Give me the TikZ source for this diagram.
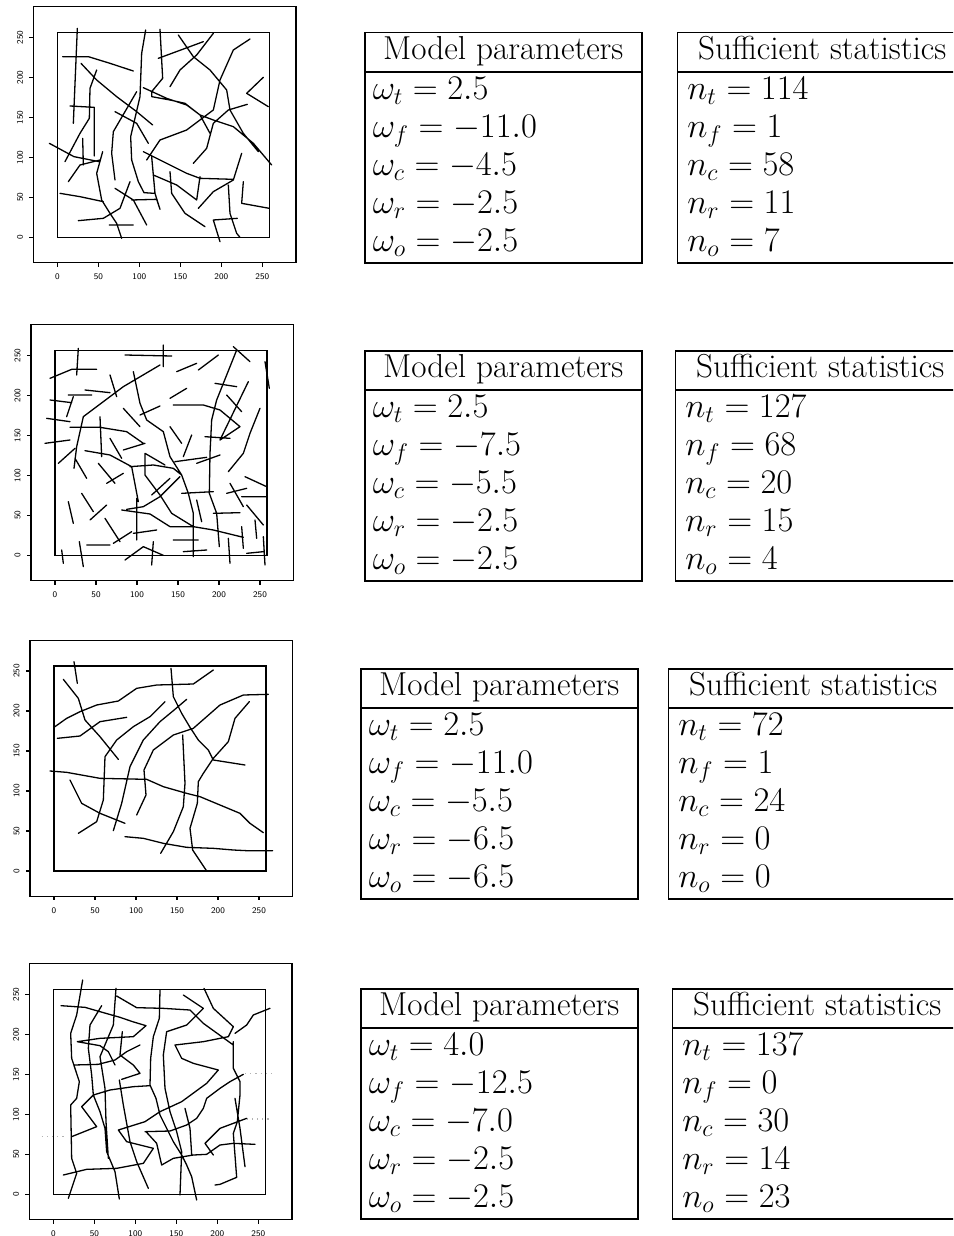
\documentclass[tikz,border=0pt]{standalone}
\usepackage{amsmath}
\usetikzlibrary{positioning}
\setlength{\arrayrulewidth}{1.1pt}

% plot box, inner window, ticks and tick labels (scan units, origin #2,#3)
\newcommand{\plotframe}[3]{%
  \draw[frame] (#2-72,#3+76) rectangle (#2+716,#3-692);
  \draw[frame] (#2,#3) rectangle (#2+636,#3-615);
  \foreach \v/\lab in {0/0,1/50,2/100,3/150,4/200,5/250}{
    \draw[frame] (#2+\v*123,#3+76) -- ++(0,12);
    \node[ticklab] (#1x\v) at (#2+\v*123,#3+118) {\lab};
    \draw[frame] (#2-72,#3-\v*120) -- ++(-12,0);
    \node[ticklab, rotate=90] (#1y\v) at (#2-112,#3-\v*120) {\lab};
  }}

\newcommand{\modeltab}[5]{%
  \begin{tabular}{@{\hspace{4pt}}p{134.5pt}@{}}
    \multicolumn{1}{c}{Model parameters}\\\hline
    $\omega_t = #1$\\ $\omega_f = #2$\\ $\omega_c = #3$\\ $\omega_r = #4$\\ $\omega_o = #5$
  \end{tabular}}
\newcommand{\stattab}[5]{%
  \begin{tabular}{@{\hspace{5pt}}p{140pt}@{}}
    \multicolumn{1}{c}{Sufficient statistics}\\\hline
    $n_t = #1$\\ $n_f = #2$\\ $n_c = #3$\\ $n_r = #4$\\ $n_o = #5$
  \end{tabular}}

\begin{document}
\begin{tikzpicture}[
		x=0.5pt, y=-0.5pt,
		frame/.style={line width=0.6pt},
		seg/.style={line width=0.65pt, line join=round, line cap=round},
		faint/.style={line width=0.6pt, gray!60, dotted},
		ticklab/.style={font=\sffamily\fontsize{4.3}{5}\selectfont, inner sep=0pt},
		tbl/.style={draw, line width=0.75pt, inner sep=0pt, anchor=north west, font=\fontsize{16.6}{19}\selectfont}
	]
	\useasboundingbox (0,0) rectangle (953,1236);
	\clip (0,0) rectangle (953,1236);

	% first sample
	\begin{scope}[shift={(0,0)}, scale=1/3]
		\plotframe{a}{172}{712}
		\draw[seg] (232,85) -- (220,370)
			(188,170) -- (265,170) -- (330,190) -- (400,213)
			(243,190) -- (290,240) -- (350,290) -- (410,335) -- (458,375)
			(290,210) -- (270,265) -- (268,355) -- (240,400) -- (195,485)
			(210,318) -- (283,322) -- (283,468)
			(248,415) -- (250,495)
			(148,430) -- (222,470) -- (298,485)
			(205,545) -- (240,495) -- (300,480)
			(308,455) -- (290,520) -- (305,600) -- (330,640) -- (350,670) -- (365,715)
			(180,580) -- (240,590) -- (310,605)
			(235,662) -- (310,655) -- (360,625) -- (390,545)
			(328,675) -- (400,675)
			(345,565) -- (400,600) -- (440,675)
			(437,90) -- (425,160) -- (420,290) -- (392,410) -- (395,480) -- (415,545) -- (432,578) -- (462,580)
			(395,600) -- (470,598) -- (480,628)
			(410,275) -- (340,395) -- (335,460) -- (345,540)
			(345,335) -- (410,370) -- (445,430)
			(480,88) -- (488,235) -- (455,275) -- (455,290) -- (510,300) -- (555,310) -- (600,345) -- (630,400)
			(475,175) -- (610,125)
			(535,105) -- (580,170) -- (630,210) -- (680,270) -- (690,330) -- (730,400) -- (775,455)
			(510,260) -- (540,210) -- (590,165) -- (640,100)
			(430,263) -- (500,295) -- (560,315) -- (600,345) -- (640,360) -- (700,380) -- (760,430) -- (815,495)
			(440,480) -- (480,420) -- (560,390) -- (640,330) -- (660,240) -- (700,150) -- (750,117)
			(580,490) -- (620,445) -- (640,370) -- (685,330) -- (742,313)
			(790,232) -- (740,280) -- (805,320)
			(430,455) -- (500,490) -- (560,520) -- (600,535) -- (700,538)
			(460,525) -- (530,555) -- (590,600) -- (600,530)
			(510,515) -- (515,580) -- (555,640) -- (615,680)
			(455,470) -- (465,580) -- (480,628)
			(595,625) -- (640,575) -- (700,540) -- (725,460)
			(685,555) -- (690,640) -- (710,700) -- (720,712)
			(660,725) -- (640,660) -- (712,655)
			(730,545) -- (725,610) -- (808,625);
	\end{scope}

	% second sample
	\begin{scope}[shift={(0,320)}, scale=1/3]
		\plotframe{b}{165}{706}
		\draw[seg] (480,135) -- (370,200) -- (250,290) -- (230,380) -- (222,445)
			(210,322) -- (300,322) -- (380,335) -- (430,370)
			(255,392) -- (330,405) -- (395,440) -- (415,545)
			(365,570) -- (450,582) -- (510,620) -- (580,620) -- (640,630) -- (730,652)
			(400,155) -- (420,250) -- (440,300) -- (490,335) -- (510,410) -- (545,465) -- (565,520) -- (580,580) -- (580,710)
			(495,435) -- (435,400) -- (435,465) -- (480,525) -- (515,580) -- (580,620)
			(390,440) -- (460,435) -- (520,445) -- (545,465)
			(380,568) -- (430,560) -- (480,530) -- (540,470)
			(710,90) -- (650,240) -- (635,300) -- (630,400) -- (628,520) -- (650,580) -- (658,680)
			(685,455) -- (730,400) -- (750,340) -- (770,290) -- (780,265)
			(520,255) -- (610,255) -- (660,270) -- (720,320) -- (660,360) -- (745,185)
			(700,80) -- (750,125)
			(795,125) -- (808,205)
			(150,175) -- (215,148) -- (290,148)
			(235,85) -- (230,165)
			(150,240) -- (215,248)
			(205,225) -- (275,225)
			(220,230) -- (200,290)
			(140,295) -- (210,305)
			(135,370) -- (210,360)
			(175,430) -- (225,385)
			(225,415) -- (260,475)
			(255,210) -- (330,218)
			(330,165) -- (350,230)
			(300,290) -- (305,410)
			(330,355) -- (365,415)
			(370,265) -- (420,320)
			(370,390) -- (435,370)
			(420,285) -- (480,258)
			(375,105) -- (515,108)
			(490,75) -- (490,140)
			(295,430) -- (345,490)
			(320,490) -- (370,460)
			(245,520) -- (280,575)
			(270,600) -- (320,555)
			(205,545) -- (220,610)
			(315,595) -- (360,665)
			(260,675) -- (330,675)
			(340,670) -- (395,635)
			(400,640) -- (470,630)
			(410,535) -- (410,660)
			(375,720) -- (430,680) -- (490,706)
			(460,665) -- (455,735)
			(185,690) -- (190,730)
			(238,665) -- (250,740)
			(455,525) -- (510,475)
			(530,155) -- (590,130)
			(595,150) -- (655,105)
			(510,235) -- (560,205)
			(510,320) -- (545,370)
			(575,345) -- (550,410)
			(525,425) -- (620,412)
			(590,430) -- (660,405)
			(545,520) -- (640,515)
			(590,540) -- (605,605)
			(520,660) -- (595,660)
			(550,695) -- (620,690)
			(640,580) -- (720,578)
			(680,520) -- (740,505)
			(690,490) -- (730,560)
			(685,655) -- (690,730)
			(725,620) -- (730,685)
			(725,530) -- (800,530)
			(735,470) -- (800,500)
			(740,555) -- (790,615)
			(765,600) -- (770,655)
			(645,190) -- (710,200)
			(680,225) -- (725,275)
			(615,350) -- (690,355)
			(790,650) -- (795,735)
			(740,700) -- (790,695);
	\end{scope}

	% third sample
	\begin{scope}[shift={(0,640)}, scale=1/3]
		\plotframe{c}{162}{693}
		\draw[seg] (222,65) -- (232,130)
			(190,118) -- (235,175) -- (255,240) -- (300,290) -- (355,358)
			(162,262) -- (200,235) -- (240,215) -- (290,195) -- (355,183) -- (410,145) -- (470,135) -- (580,132) -- (640,90)
			(172,295) -- (240,288) -- (300,245) -- (380,232)
			(235,580) -- (290,545) -- (310,480) -- (315,350) -- (350,300) -- (400,260) -- (450,230) -- (495,185)
			(340,572) -- (365,490) -- (390,380) -- (430,300) -- (480,245) -- (520,212) -- (560,178)
			(410,525) -- (438,465) -- (432,390) -- (460,330) -- (520,285) -- (580,265) -- (620,230) -- (660,195) -- (730,165) -- (805,163)
			(150,393) -- (200,397) -- (300,415) -- (440,418) -- (490,440) -- (560,460) -- (600,470) -- (720,520) -- (750,550) -- (790,578)
			(210,420) -- (245,490) -- (300,520) -- (375,550)
			(513,85) -- (520,170) -- (545,220) -- (570,262) -- (595,300) -- (625,330) -- (640,360) -- (735,375)
			(548,285) -- (555,430) -- (550,500) -- (520,575) -- (482,640)
			(748,185) -- (705,235) -- (685,305) -- (640,355) -- (610,400) -- (595,425) -- (592,490) -- (570,565) -- (578,630) -- (620,693)
			(375,590) -- (430,595) -- (490,610) -- (560,622) -- (640,625) -- (700,630) -- (740,632) -- (818,632);
	\end{scope}

	% fourth sample
	\begin{scope}[shift={(0,955)}, scale=1/3]
		\plotframe{d}{160}{718}
		\draw[faint] (125,545) -- (200,545) (735,355) -- (820,355) (740,492) -- (810,492);
		\draw[seg] (248,75) -- (230,180) -- (212,235) -- (215,310) -- (238,380) -- (230,430) -- (212,450) -- (215,610) -- (230,655) -- (205,730)
			(183,152) -- (255,157) -- (300,170) -- (360,187) -- (398,200) -- (438,212) -- (400,245) -- (300,250) -- (232,260)
			(232,260) -- (300,272) -- (325,290) -- (345,330)
			(222,330) -- (295,328) -- (345,315) -- (380,290) -- (420,270)
			(305,152) -- (270,210) -- (265,280) -- (275,360) -- (280,420) -- (300,470) -- (315,520) -- (320,590) -- (345,650) -- (358,732)
			(348,100) -- (340,210) -- (300,305) -- (315,400) -- (318,500) -- (325,610)
			(350,123) -- (410,158) -- (490,160) -- (570,165) -- (610,205) -- (700,270)
			(367,230) -- (360,300) -- (400,330) -- (420,355) -- (365,373)
			(358,375) -- (370,450) -- (390,560) -- (410,620) -- (445,700)
			(480,105) -- (478,190) -- (460,245) -- (452,310) -- (450,390) -- (468,430) -- (480,480) -- (520,560) -- (545,600) -- (560,630) -- (575,665) -- (590,735)
			(550,120) -- (610,160) -- (560,210) -- (500,230) -- (490,300) -- (495,400) -- (510,470) -- (530,530) -- (545,590) -- (540,720)
			(612,100) -- (640,160) -- (700,215) -- (685,245) -- (610,260) -- (525,270) -- (545,310) -- (580,325) -- (655,345) -- (620,385) -- (545,440) -- (480,470) -- (435,500) -- (355,525)
			(705,235) -- (740,210) -- (760,180) -- (810,160)
			(640,600) -- (615,565) -- (660,520) -- (740,490)
			(215,545) -- (290,515) -- (245,455) -- (280,420) -- (330,405) -- (400,395) -- (450,392)
			(435,530) -- (510,528) -- (560,510) -- (590,490) -- (610,460) -- (620,430) -- (660,400) -- (690,380) -- (730,358)
			(355,525) -- (380,560) -- (460,580) -- (430,625) -- (350,640) -- (260,643) -- (190,660)
			(438,530) -- (470,565) -- (485,630) -- (520,610) -- (580,600) -- (620,598) -- (660,570) -- (700,565) -- (765,568)
			(555,460) -- (570,520) -- (575,598)
			(700,260) -- (700,340) -- (720,380) -- (720,420) -- (712,500) -- (700,535) -- (710,667) -- (660,688) -- (645,690)
			(705,430) -- (720,520) -- (735,635);
	\end{scope}

	% parameter and statistic tables
	\node[tbl] (mp1) at (364,32) {\modeltab{2.5}{-11.0}{-4.5}{-2.5}{-2.5}};
	\node[tbl, right=17pt of mp1] (ss1) {\stattab{114}{1}{58}{11}{7}};
	\node[tbl] (mp2) at (364,350) {\modeltab{2.5}{-7.5}{-5.5}{-2.5}{-2.5}};
	\node[tbl, right=16pt of mp2] (ss2) {\stattab{127}{68}{20}{15}{4}};
	\node[tbl] (mp3) at (360,668) {\modeltab{2.5}{-11.0}{-5.5}{-6.5}{-6.5}};
	\node[tbl, right=14.5pt of mp3] (ss3) {\stattab{72}{1}{24}{0}{0}};
	\node[tbl] (mp4) at (360,988) {\modeltab{4.0}{-12.5}{-7.0}{-2.5}{-2.5}};
	\node[tbl, right=16.5pt of mp4] (ss4) {\stattab{137}{0}{30}{14}{23}};
\end{tikzpicture}
\end{document}
